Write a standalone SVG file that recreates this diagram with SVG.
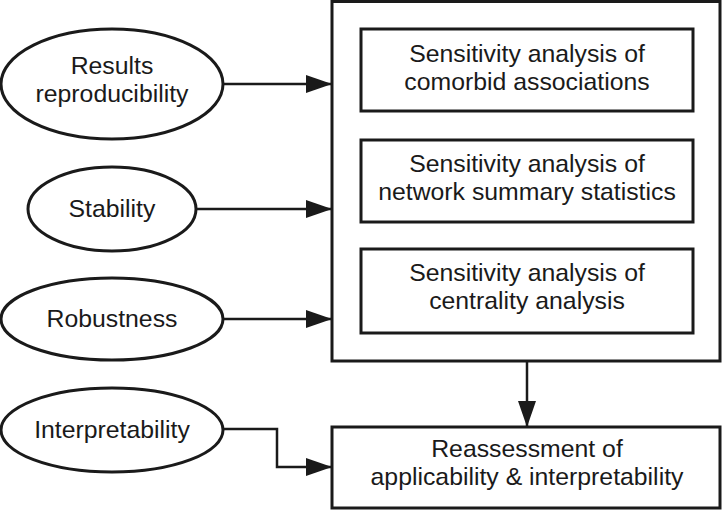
<svg xmlns="http://www.w3.org/2000/svg" width="722" height="511" viewBox="0 0 722 511">
<style>
.shape{fill:#fff;stroke:#1a1a1a;stroke-width:3}
.line{fill:none;stroke:#1a1a1a;stroke-width:2.5}
text{font-family:"Liberation Sans",Arial,sans-serif;font-size:24.8px;fill:#1a1a1a;text-anchor:middle}
</style>
<defs>
<marker id="ah" markerUnits="userSpaceOnUse" markerWidth="26" markerHeight="18" refX="26" refY="9" orient="auto">
<path d="M0,0 L26,9 L0,18 Z" fill="#1a1a1a"/>
</marker>
</defs>
<g id="outer"><rect class="shape" x="332" y="1.5" width="388" height="359.5"/></g>
<g id="box1"><rect class="shape" x="361" y="29" width="332" height="82"/>
<text x="527" y="62">Sensitivity analysis of</text><text x="527" y="90">comorbid associations</text></g>
<g id="box2"><rect class="shape" x="361" y="140" width="332" height="82"/>
<text x="527" y="172">Sensitivity analysis of</text><text x="527" y="200">network summary statistics</text></g>
<g id="box3"><rect class="shape" x="361" y="249" width="332" height="84"/>
<text x="527" y="281">Sensitivity analysis of</text><text x="527" y="309">centrality analysis</text></g>
<g id="reassess"><rect class="shape" x="332" y="427" width="388" height="81"/>
<text x="527" y="457">Reassessment of</text><text x="527" y="485">applicability &amp; interpretability</text></g>
<g id="results"><ellipse class="shape" cx="112" cy="84" rx="111" ry="55"/>
<text x="112" y="74">Results</text><text x="112" y="102">reproducibility</text></g>
<g id="stability"><ellipse class="shape" cx="112" cy="209" rx="84" ry="42"/>
<text x="112" y="217">Stability</text></g>
<g id="robustness"><ellipse class="shape" cx="112" cy="319" rx="111" ry="41"/>
<text x="112" y="327">Robustness</text></g>
<g id="interpretability"><ellipse class="shape" cx="112" cy="430" rx="111" ry="42"/>
<text x="112" y="438">Interpretability</text></g>
<g id="connectors">
<path class="line" d="M223,84 H332" marker-end="url(#ah)"/>
<path class="line" d="M196,209 H332" marker-end="url(#ah)"/>
<path class="line" d="M223,319 H332" marker-end="url(#ah)"/>
<path class="line" d="M223,429 H277 V467 H332" marker-end="url(#ah)"/>
<path class="line" d="M527,361 V427" marker-end="url(#ah)"/>
</g>
</svg>
